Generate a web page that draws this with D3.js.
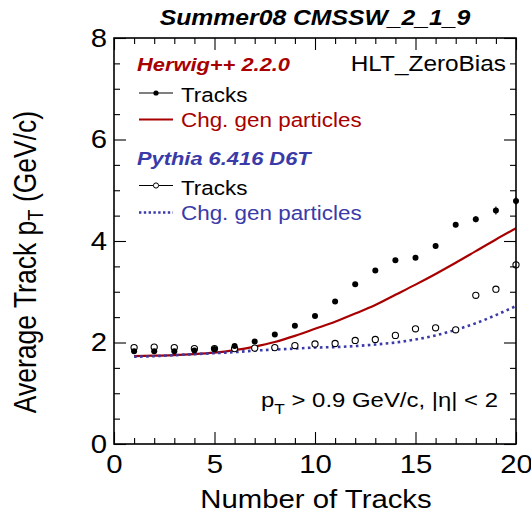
<!DOCTYPE html>
<html>
<head>
<meta charset="utf-8">
<script src="https://cdn.jsdelivr.net/npm/d3@7"></script>
<style>
  html, body { margin: 0; padding: 0; background: #fff; }
  svg { display: block; }
  text { font-family: "Liberation Sans", Arial, Helvetica, sans-serif; }
</style>
</head>
<body>
<svg id="chart" width="531" height="514"></svg>
<script>
// Number of reconstructed tracks (x) and average track pT in GeV/c (y)
const nTracks = [1, 2, 3, 4, 5, 6, 7, 8, 9, 10, 11, 12, 13, 14, 15, 16, 17, 18, 19, 20];

// Herwig++ 2.2.0
const herwigTracks = [1.83, 1.83, 1.83, 1.84, 1.87, 1.93, 2.02, 2.16, 2.33, 2.52,
                      2.81, 3.15, 3.42, 3.62, 3.67, 3.90, 4.32, 4.43, 4.60, 4.79];
const herwigTracksErr = [0.01, 0.01, 0.01, 0.01, 0.01, 0.01, 0.01, 0.02, 0.02, 0.02,
                         0.03, 0.03, 0.03, 0.04, 0.04, 0.05, 0.05, 0.06, 0.08, 0.08];
const herwigGen = [1.73, 1.74, 1.75, 1.77, 1.80, 1.85, 1.92, 2.01, 2.13, 2.27,
                   2.41, 2.57, 2.74, 2.94, 3.14, 3.35, 3.57, 3.80, 4.03, 4.25];

// Pythia 6.416 D6T
const pythiaTracks = [1.90, 1.91, 1.90, 1.88, 1.88, 1.88, 1.89, 1.90, 1.94, 1.97,
                      1.98, 2.04, 2.06, 2.14, 2.27, 2.29, 2.25, 2.93, 3.05, 3.53];
const pythiaTracksErr = [0.01, 0.01, 0.01, 0.01, 0.01, 0.01, 0.01, 0.01, 0.01, 0.02,
                         0.02, 0.02, 0.02, 0.03, 0.03, 0.03, 0.04, 0.05, 0.06, 0.07];
const pythiaGen = [1.72, 1.73, 1.75, 1.77, 1.79, 1.81, 1.84, 1.86, 1.88, 1.90,
                   1.91, 1.93, 1.96, 2.00, 2.06, 2.14, 2.25, 2.38, 2.54, 2.72];

// Axis ticks
const xMajorTicks = [0, 5, 10, 15, 20];
const xMinorTicks = [1, 2, 3, 4, 6, 7, 8, 9, 11, 12, 13, 14, 16, 17, 18, 19];
const yMajorTicks = [0, 2, 4, 6, 8];
const yMinorTicks = [0.5, 1, 1.5, 2.5, 3, 3.5, 4.5, 5, 5.5, 6.5, 7, 7.5];

const RED = "#a80000";
const BLUE = "#3a3aa8";
const SX = 1.15; // horizontal stretch of all lettering

const svg = d3.select("#chart");
const frame = { left: 114, right: 516, top: 38, bottom: 444 };

const x = d3.scaleLinear().domain([0, 20]).range([frame.left, frame.right]);
const y = d3.scaleLinear().domain([0, 8]).range([frame.bottom, frame.top]);

// text helper: placed at (px, py) and stretched horizontally
function label(parent, px, py, str, opts = {}) {
  const g = parent.append("g").attr("transform", `translate(${px},${py}) scale(${SX},1)`);
  const t = g.append("text")
    .attr("font-size", opts.size || 20)
    .attr("text-anchor", opts.anchor || "start")
    .attr("font-weight", opts.weight || "normal")
    .attr("font-style", opts.style || "normal")
    .attr("fill", opts.fill || "#000");
  if (str !== null) t.text(str);
  return t;
}

// ---- data marks (clipped to the frame) ----
svg.append("clipPath").attr("id", "frameClip")
  .append("rect")
  .attr("x", frame.left).attr("y", frame.top)
  .attr("width", frame.right - frame.left).attr("height", frame.bottom - frame.top);

const plot = svg.append("g").attr("clip-path", "url(#frameClip)");

const genLine = d3.line()
  .x((d, i) => x(nTracks[i]))
  .y(d => y(d))
  .curve(d3.curveMonotoneX);

plot.append("path").datum(herwigGen)
  .attr("d", genLine)
  .attr("fill", "none").attr("stroke", RED).attr("stroke-width", 2.2);

plot.append("path").datum(pythiaGen)
  .attr("d", genLine)
  .attr("fill", "none").attr("stroke", BLUE).attr("stroke-width", 2.6)
  .attr("stroke-dasharray", "2.6,3.4");

const marks = svg.append("g");

function errBars(vals, errs) {
  marks.append("g").selectAll("line").data(vals).join("line")
    .attr("x1", (d, i) => x(nTracks[i])).attr("x2", (d, i) => x(nTracks[i]))
    .attr("y1", (d, i) => y(d + errs[i])).attr("y2", (d, i) => y(d - errs[i]))
    .attr("stroke", "#000").attr("stroke-width", 1);
}
errBars(herwigTracks, herwigTracksErr);
errBars(pythiaTracks, pythiaTracksErr);

marks.append("g").selectAll("circle").data(pythiaTracks).join("circle")
  .attr("cx", (d, i) => x(nTracks[i])).attr("cy", d => y(d))
  .attr("r", 3.1).attr("fill", "#fff").attr("stroke", "#000").attr("stroke-width", 1.1);

marks.append("g").selectAll("circle").data(herwigTracks).join("circle")
  .attr("cx", (d, i) => x(nTracks[i])).attr("cy", d => y(d))
  .attr("r", 3.0).attr("fill", "#000");

// ---- axes with inward ticks on all four sides ----
function styleAxis(g) {
  g.select(".domain").remove();
  g.selectAll(".tick line").attr("stroke", "#000").attr("stroke-width", 1.1);
}

const axisFont = 25.5;

svg.append("g").attr("transform", `translate(${frame.left},0)`)
  .call(d3.axisLeft(y).tickValues(yMajorTicks).tickSize(-12).tickPadding(6).tickFormat(d3.format("d")))
  .call(styleAxis)
  .call(g => g.selectAll(".tick text")
    .attr("font-size", axisFont).attr("fill", "#000")
    .attr("font-family", "Liberation Sans, Arial, sans-serif")
    .attr("transform", `scale(${SX},1)`));
svg.append("g").attr("transform", `translate(${frame.left},0)`)
  .call(d3.axisLeft(y).tickValues(yMinorTicks).tickSize(-6).tickFormat(""))
  .call(styleAxis);
svg.append("g").attr("transform", `translate(${frame.right},0)`)
  .call(d3.axisRight(y).tickValues(yMajorTicks).tickSize(-12).tickFormat(""))
  .call(styleAxis);
svg.append("g").attr("transform", `translate(${frame.right},0)`)
  .call(d3.axisRight(y).tickValues(yMinorTicks).tickSize(-6).tickFormat(""))
  .call(styleAxis);

svg.append("g").attr("transform", `translate(0,${frame.bottom})`)
  .call(d3.axisBottom(x).tickValues(xMajorTicks).tickSize(-12).tickPadding(6).tickFormat(d3.format("d")))
  .call(styleAxis)
  .call(g => g.selectAll(".tick text")
    .attr("font-size", axisFont).attr("fill", "#000")
    .attr("font-family", "Liberation Sans, Arial, sans-serif")
    .attr("dy", "0.9em")
    .attr("transform", `scale(${SX},1)`));
svg.append("g").attr("transform", `translate(0,${frame.bottom})`)
  .call(d3.axisBottom(x).tickValues(xMinorTicks).tickSize(-6).tickFormat(""))
  .call(styleAxis);
svg.append("g").attr("transform", `translate(0,${frame.top})`)
  .call(d3.axisTop(x).tickValues(xMajorTicks).tickSize(-12).tickFormat(""))
  .call(styleAxis);
svg.append("g").attr("transform", `translate(0,${frame.top})`)
  .call(d3.axisTop(x).tickValues(xMinorTicks).tickSize(-6).tickFormat(""))
  .call(styleAxis);

// frame
svg.append("rect")
  .attr("x", frame.left).attr("y", frame.top)
  .attr("width", frame.right - frame.left).attr("height", frame.bottom - frame.top)
  .attr("fill", "none").attr("stroke", "#000").attr("stroke-width", 1.6);

// ---- titles ----
label(svg, (frame.left + frame.right) / 2, 25, "Summer08 CMSSW_2_1_9",
  { size: 21.5, anchor: "middle", weight: "bold", style: "italic" });

label(svg, 316, 508, "Number of Tracks", { size: 25.5, anchor: "middle" });

// y-axis title, rotated; stretched across the screen x direction
const yt = svg.append("g").attr("transform", `translate(36,262) rotate(-90) scale(1,${SX})`)
  .append("text").attr("font-size", 26.5).attr("text-anchor", "middle").attr("fill", "#000");
yt.append("tspan").text("Average Track p");
yt.append("tspan").attr("font-size", 18.5).attr("dy", 6).text("T");
yt.append("tspan").attr("dy", -6).text("  (GeV/c)");

// ---- annotations ----
label(svg, 506, 71, "HLT_ZeroBias", { size: 21.2, anchor: "end" });

const cut = label(svg, 498, 407, null, { size: 20.8, anchor: "end" });
cut.append("tspan").text("p");
cut.append("tspan").attr("font-size", 15).attr("dy", 7).text("T");
cut.append("tspan").attr("dy", -7).text(" > 0.9 GeV/c, |η| < 2");

// ---- legend ----
const leg = svg.append("g");
const legX0 = 139, legX1 = 173, legText = 181;

label(leg, 137, 71, "Herwig++ 2.2.0", { size: 19, weight: "bold", style: "italic", fill: RED });
leg.append("line").attr("x1", legX0).attr("x2", legX1).attr("y1", 93).attr("y2", 93)
  .attr("stroke", "#000").attr("stroke-width", 1);
leg.append("circle").attr("cx", (legX0 + legX1) / 2).attr("cy", 93).attr("r", 2.6).attr("fill", "#000");
label(leg, legText, 102, "Tracks", { size: 19.5 });
leg.append("line").attr("x1", legX0).attr("x2", legX1).attr("y1", 119.5).attr("y2", 119.5)
  .attr("stroke", RED).attr("stroke-width", 2.2);
label(leg, legText, 127, "Chg. gen particles", { size: 19.5, fill: RED });

label(leg, 137, 164.5, "Pythia 6.416 D6T", { size: 19, weight: "bold", style: "italic", fill: BLUE });
leg.append("line").attr("x1", legX0).attr("x2", legX1).attr("y1", 185.5).attr("y2", 185.5)
  .attr("stroke", "#000").attr("stroke-width", 1);
leg.append("circle").attr("cx", (legX0 + legX1) / 2).attr("cy", 185.5).attr("r", 2.6)
  .attr("fill", "#fff").attr("stroke", "#000").attr("stroke-width", 1);
label(leg, legText, 195, "Tracks", { size: 19.5 });
leg.append("line").attr("x1", legX0).attr("x2", legX1).attr("y1", 212.5).attr("y2", 212.5)
  .attr("stroke", BLUE).attr("stroke-width", 2.4).attr("stroke-dasharray", "2.4,2.4");
label(leg, legText, 219.5, "Chg. gen particles", { size: 19.5, fill: BLUE });
</script>
</body>
</html>
